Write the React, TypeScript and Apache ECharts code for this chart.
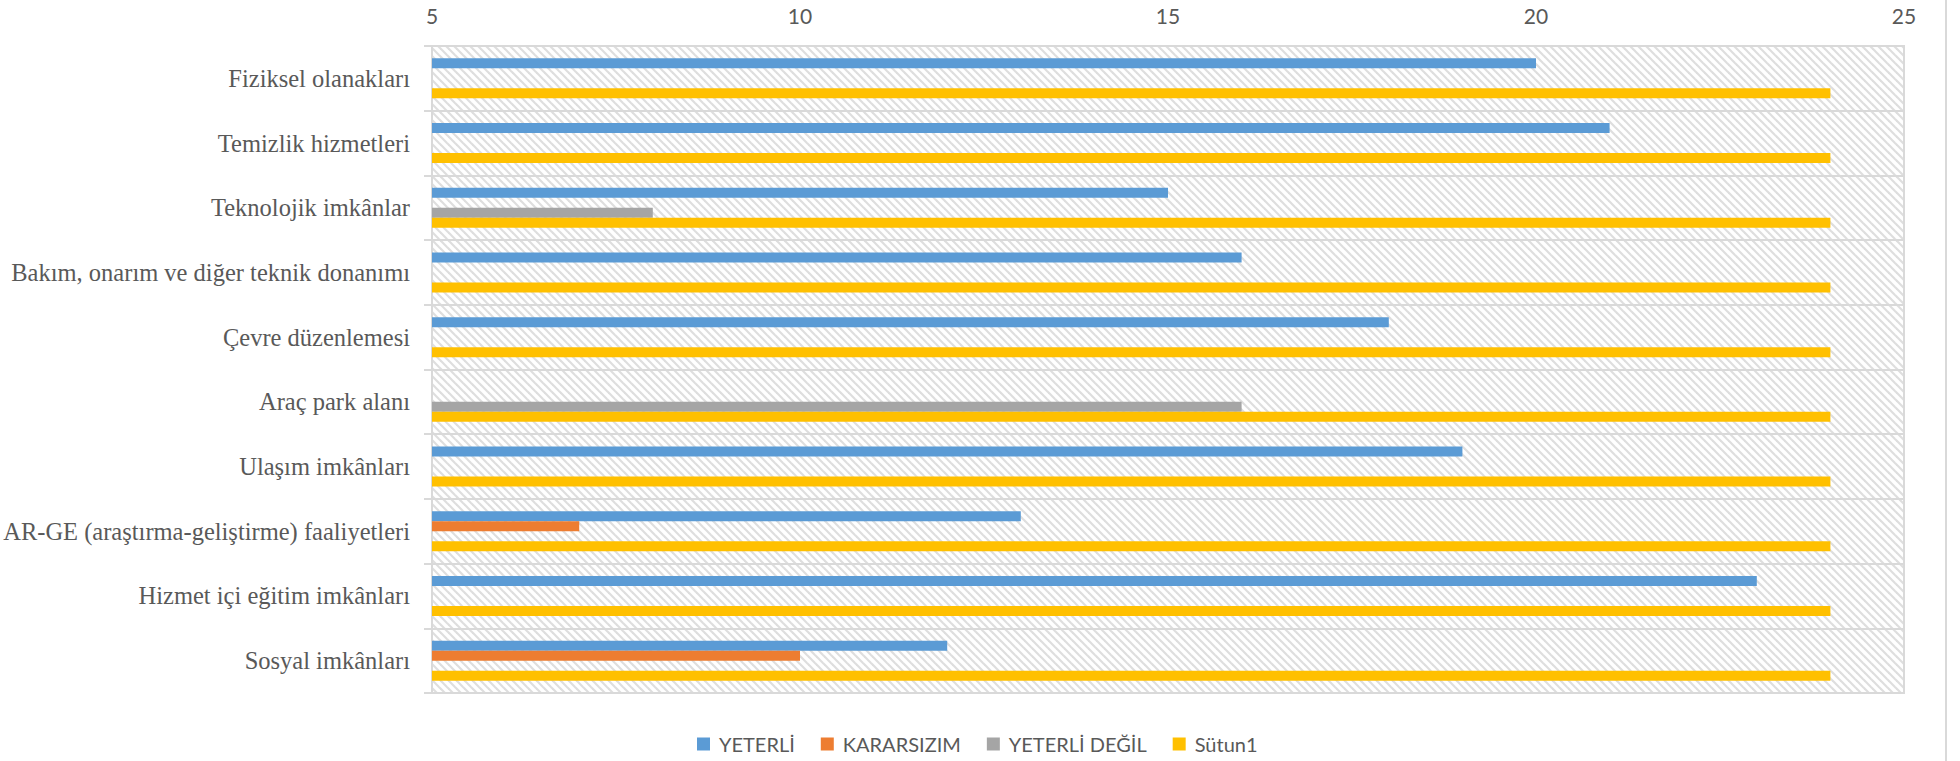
import React, { useEffect, useRef } from "react";
import * as echarts from "echarts";

const categories = [
  "Fiziksel olanakları",
  "Temizlik hizmetleri",
  "Teknolojik imkânlar",
  "Bakım, onarım ve diğer teknik donanımı",
  "Çevre düzenlemesi",
  "Araç park alanı",
  "Ulaşım imkânları",
  "AR-GE (araştırma-geliştirme) faaliyetleri",
  "Hizmet içi eğitim imkânları",
  "Sosyal imkânları",
];

const yeterli = [20, 21, 15, 16, 18, 4, 19, 13, 23, 12];
const kararsizim = [2, 2, 1, 4, 3, 4, 3, 7, 1, 10];
const yeterliDegil = [2, 1, 8, 4, 3, 16, 2, 4, 0, 2];
const sutun1 = [24, 24, 24, 24, 24, 24, 24, 24, 24, 24];

const seriesNames = ["YETERLİ", "KARARSIZIM", "YETERLİ DEĞİL", "Sütun1"];
const seriesColors = ["#5b9bd5", "#ed7d31", "#a5a5a5", "#ffc000"];
const xTicks = { min: 5, max: 25, interval: 5 };

function makeHatch(): string {
  const c = document.createElement("canvas");
  const s = 8;
  c.width = s;
  c.height = s;
  const ctx = c.getContext("2d")!;
  ctx.fillStyle = "#ffffff";
  ctx.fillRect(0, 0, s, s);
  ctx.strokeStyle = "#dedede";
  ctx.lineWidth = 2.2;
  for (const off of [-s, 0, s]) {
    ctx.beginPath();
    ctx.moveTo(-2 + off, -2);
    ctx.lineTo(s + 2 + off, s + 2);
    ctx.stroke();
  }
  return c.toDataURL();
}

export default function App() {
  const ref = useRef<HTMLDivElement>(null);
  useEffect(() => {
    if (!ref.current) return;
    const chart = echarts.init(ref.current, undefined, { renderer: "svg" });
    const hatch = makeHatch();
    const dataSets = [yeterli, kararsizim, yeterliDegil, sutun1];
    chart.setOption({
      animation: false,
      backgroundColor: "#ffffff",
      grid: {
        left: 432,
        right: 56,
        top: 46,
        bottom: 68,
        show: true,
        backgroundColor: { image: hatch, repeat: "repeat" },
        borderColor: "#d9d9d9",
        borderWidth: 2,
      },
      legend: {
        left: 692,
        top: 729,
        icon: "rect",
        itemWidth: 13,
        itemHeight: 13,
        itemGap: 26,
        textStyle: {
          fontFamily: "Lato",
          fontSize: 20,
          color: "#595959",
          padding: [0, 0, 0, 4],
        },
        data: seriesNames,
      },
      xAxis: {
        type: "value",
        position: "top",
        min: xTicks.min,
        max: xTicks.max,
        interval: xTicks.interval,
        axisLine: { show: false },
        axisTick: { show: false },
        splitLine: { show: false },
        axisLabel: {
          fontFamily: "Lato",
          fontSize: 21,
          color: "#595959",
          margin: 20,
        },
      },
      yAxis: {
        type: "category",
        inverse: true,
        data: categories,
        axisLine: { show: true, lineStyle: { color: "#d9d9d9", width: 2 } },
        axisTick: { show: true, length: 8, lineStyle: { color: "#d9d9d9", width: 2 } },
        splitLine: { show: true, lineStyle: { color: "#d9d9d9", width: 2 } },
        axisLabel: {
          fontFamily: "Liberation Serif",
          fontSize: 24.5,
          color: "#595959",
          margin: 22,
        },
      },
      graphic: [
        {
          type: "line",
          shape: { x1: 1946, y1: 0, x2: 1946, y2: 761 },
          style: { stroke: "#d9d9d9", lineWidth: 2 },
        },
      ],
      series: seriesNames.map((name, i) => ({
        name,
        type: "bar",
        data: dataSets[i],
        barWidth: 10,
        barGap: "0%",
        itemStyle: { color: seriesColors[i] },
      })),
    });
    return () => chart.dispose();
  }, []);
  return (
    <div
      ref={ref}
      style={{ position: "fixed", left: 0, top: 0, width: 1960, height: 761 }}
    />
  );
}
